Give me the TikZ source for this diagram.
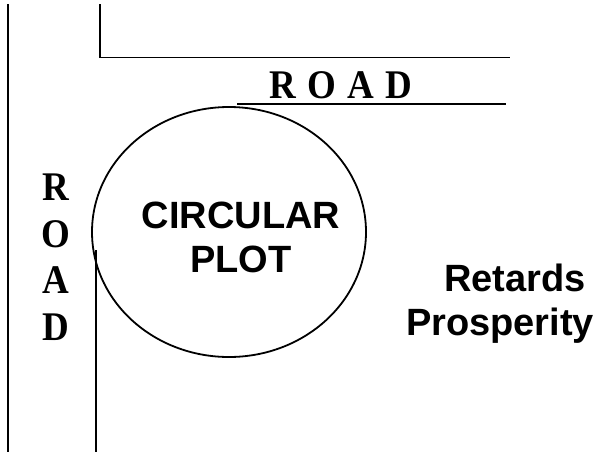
\documentclass[tikz,border=0pt]{standalone}
\usepackage{fontspec}
\usepackage{graphicx}
\setmainfont{Liberation Serif}
\setsansfont{Liberation Sans}
\usetikzlibrary{shapes.geometric}
\newcommand\vstretch[1]{\scalebox{1}[1.1]{#1}}
\begin{document}
\begin{tikzpicture}[x=1pt,y=-1pt,
  road/.style={line width=1.8pt},
  roadlabel/.style={inner sep=0pt,font=\rmfamily\bfseries\fontsize{37}{46.5}\selectfont},
  plotlabel/.style={inner sep=0pt,align=center,font=\sffamily\bfseries\fontsize{38}{44.3}\selectfont}]
\useasboundingbox (0,0) rectangle (596,453);
% roads
\coordinate (l1) at (8,4);
\coordinate (l2) at (8,452);
\draw[road] (l1) -- (l2);
\coordinate (t1) at (100,4);
\coordinate (t2) at (100,57.5);
\coordinate (t3) at (510,57.5);
\draw[road] (t1) -- (t2) -- (t3);
\coordinate (h1) at (237,104);
\coordinate (h2) at (506,104);
\draw[road] (h1) -- (h2);
\coordinate (v1) at (96,250);
\coordinate (v2) at (96,452);
\draw[road] (v1) -- (v2);
% plot
\node[draw,line width=1.8pt,ellipse,inner sep=0pt,minimum width=274pt,minimum height=250pt] (plot) at (229,232) {};
\node[plotlabel] (plottext) at (241,237.5) {CIRCULAR\\PLOT};
% labels
\node[roadlabel,anchor=base] (roadtop) at (341,98.5) {\vstretch{R\hspace{11.5pt}O\hspace{11.5pt}A\hspace{11.5pt}D}};
\node[roadlabel,align=center] (roadleft) at (56,257) {\vstretch{R}\\\vstretch{O}\\\vstretch{A}\\\vstretch{D}};
\node[plotlabel] (retards) at (500,304) {\hspace*{30pt}Retards\\Prosperity};
\end{tikzpicture}
\end{document}
